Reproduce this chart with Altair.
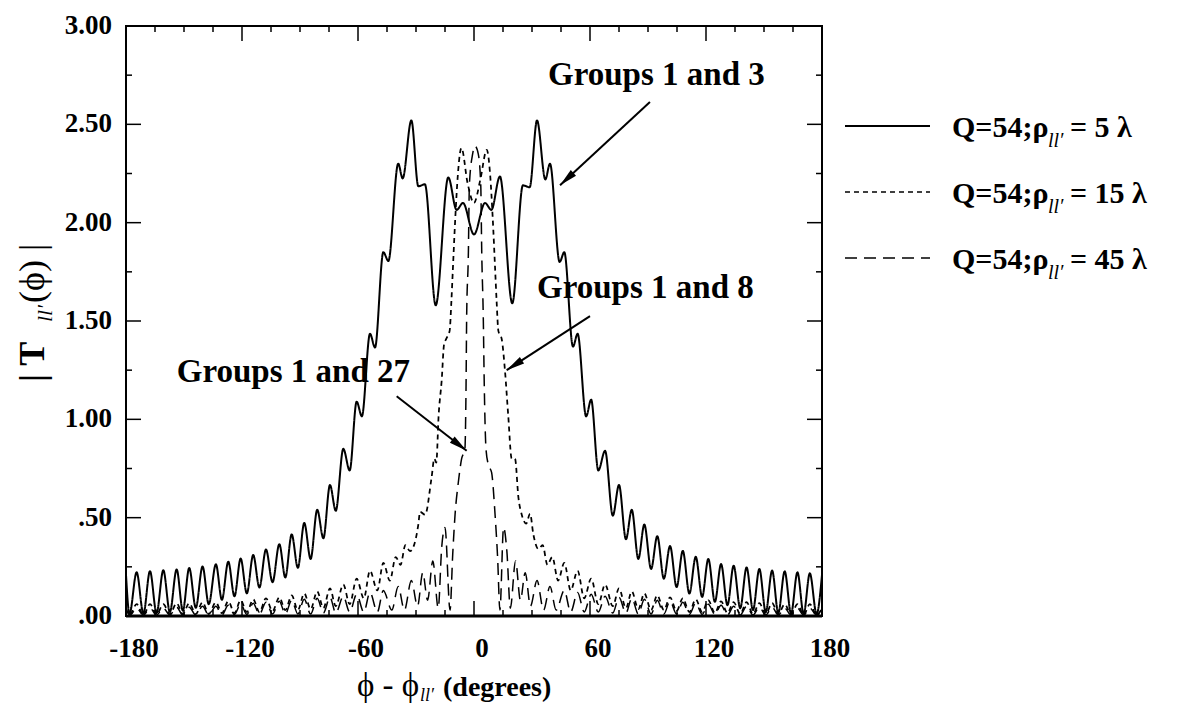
import math
import altair as alt
import pandas as pd

W, H = 696, 590
FONT = "Liberation Serif"

SERIES = ["rho5", "rho15", "rho45"]
LEGEND_NUM = ["5", "15", "45"]

# ---- curve 1: Q=54, rho = 5 lambda (solid) ----
S_X = [-180, -178.2, -174.5, -171.0, -167.6, -164.2, -160.7, -157.3, -153.8, -150.6,
       -147.3, -143.9, -140.4, -137.2, -133.5, -130.4, -127.1, -123.9, -120.7, -117.5,
       -114.2, -111.0, -107.6, -104.2, -100.7, -97.6, -94.3, -91.1, -87.8, -84.5,
       -81.1, -77.9, -74.5, -71.5, -67.6, -64.3, -60.7, -58.0, -53.8, -51.2,
       -46.9, -44.3, -39.2, -36.9, -32.4, -28.8, -25.4, -19.8, -13.3, -9.0,
       -5.7, 0, 5.7, 9.0, 13.4, 19.8, 25.3, 28.8, 32.6, 36.9,
       39.3, 44.3, 46.7, 51.2, 53.6, 58.0, 60.6, 64.3, 67.8, 71.8,
       75.0, 78.6, 81.6, 85.0, 88.1, 91.6, 94.8, 98.2, 101.4, 104.8,
       108.0, 111.4, 114.7, 118.0, 121.2, 124.6, 127.8, 131.1, 134.3, 137.7,
       141.0, 144.3, 147.6, 150.9, 154.2, 157.4, 160.7, 164.0, 167.3, 170.5,
       173.7, 177.2, 180]
S_Y = [0.21, 0.01, 0.222, 0.012, 0.228, 0.015, 0.233, 0.02, 0.237, 0.027,
       0.244, 0.042, 0.252, 0.06, 0.263, 0.082, 0.276, 0.1, 0.292, 0.115,
       0.31, 0.145, 0.338, 0.172, 0.365, 0.196, 0.415, 0.245, 0.473, 0.29,
       0.54, 0.395, 0.666, 0.535, 0.85, 0.74, 1.09, 1.015, 1.435, 1.365,
       1.85, 1.805, 2.30, 2.225, 2.52, 2.185, 2.195, 1.58, 2.23, 2.065,
       2.10, 1.94, 2.10, 2.065, 2.235, 1.59, 2.19, 2.18, 2.52, 2.22,
       2.30, 1.80, 1.85, 1.37, 1.435, 1.015, 1.10, 0.74, 0.84, 0.51,
       0.666, 0.39, 0.54, 0.29, 0.465, 0.239, 0.406, 0.19, 0.356, 0.147,
       0.331, 0.114, 0.301, 0.097, 0.29, 0.072, 0.264, 0.055, 0.256, 0.04,
       0.247, 0.03, 0.239, 0.02, 0.231, 0.015, 0.227, 0.012, 0.222, 0.01,
       0.217, 0.01, 0.21]

# ---- curve 2: Q=54, rho = 15 lambda (short dashes) ----
M_X = [-180, -178.2, -174.5, -171.0, -167.6, -164.2, -160.7, -157.3, -153.8, -150.6,
       -147.3, -143.9, -140.4, -137.2, -133.5, -130.4, -127.1, -123.9, -120.7, -117.5,
       -114.2, -111.0, -107.6, -104.2, -100.7, -97.6, -94.3, -91.1, -87.8, -84.5,
       -81.1, -77.9, -74.5, -71.5, -67.6, -64.3, -60.7, -57.0, -53.8, -50.0,
       -46.9, -43.5, -40.5, -38.0, -35.5, -33.1, -31.4, -28.8, -27.9, -25.3,
       -22.0, -20.5, -19.5, -18.3, -16.7, -15.5, -14.3, -12.6, -11.7, -10.9,
       -9.7, -8.3, -6.5, -3.3, 0, 3.3, 6.6, 8.3, 9.7, 10.9,
       11.7, 12.6, 14.3, 16.0, 17.7, 19.5, 21.2, 23.0, 24.7, 27.0,
       29.0, 30.7, 33.3, 35.5, 38.0, 40.5, 43.5, 46.7, 50.0, 53.6,
       57.0, 60.6, 64.3, 67.8, 71.8, 75.0, 78.6, 81.6, 85.0, 88.1,
       91.6, 94.8, 98.2, 101.4, 104.8, 108.0, 111.4, 114.7, 118.0, 121.2,
       124.6, 127.8, 131.1, 134.3, 137.7, 141.0, 144.3, 147.6, 150.9, 154.2,
       157.4, 160.7, 164.0, 167.3, 170.5, 173.7, 177.2, 180]
M_Y = [0.04, 0.005, 0.06, 0.005, 0.06, 0.008, 0.06, 0.01, 0.065, 0.01,
       0.065, 0.01, 0.07, 0.01, 0.07, 0.015, 0.075, 0.015, 0.08, 0.02,
       0.085, 0.02, 0.09, 0.025, 0.095, 0.03, 0.105, 0.03, 0.115, 0.035,
       0.125, 0.04, 0.14, 0.05, 0.16, 0.06, 0.19, 0.09, 0.23, 0.13,
       0.27, 0.18, 0.30, 0.26, 0.36, 0.33, 0.35, 0.465, 0.53, 0.515,
       0.70, 0.80, 0.78, 1.02, 1.20, 1.38, 1.41, 1.45, 1.60, 1.77,
       2.02, 2.25, 2.38, 2.20, 2.10, 2.22, 2.37, 2.25, 2.02, 1.77,
       1.60, 1.45, 1.41, 1.25, 1.02, 0.80, 0.80, 0.60, 0.515, 0.47,
       0.52, 0.415, 0.34, 0.36, 0.26, 0.30, 0.18, 0.27, 0.13, 0.23,
       0.09, 0.19, 0.06, 0.16, 0.05, 0.14, 0.04, 0.125, 0.035, 0.115,
       0.03, 0.105, 0.03, 0.095, 0.025, 0.09, 0.02, 0.085, 0.02, 0.08,
       0.015, 0.075, 0.015, 0.07, 0.01, 0.07, 0.01, 0.065, 0.01, 0.065,
       0.01, 0.06, 0.008, 0.06, 0.005, 0.06, 0.005, 0.04]

# ---- curve 3: Q=54, rho = 45 lambda (long dashes) ----
L_X = [-180, -177.9, -174.5, -171.0, -167.6, -164.2, -160.7, -157.3, -153.8, -150.6,
       -147.3, -143.9, -140.4, -137.2, -133.5, -130.4, -127.1, -123.9, -120.7, -117.5,
       -114.2, -111.0, -107.6, -104.2, -100.7, -97.6, -94.3, -91.1, -87.8, -84.5,
       -81.1, -77.9, -74.5, -71.5, -67.6, -64.3, -60.7, -57.0, -53.8, -50.0,
       -46.9, -42.5, -39.2, -36.0, -32.4, -29.2, -26.5, -24.0, -21.3, -18.5,
       -16.7, -15.0, -12.4, -11.0, -9.8, -8.1, -6.4, -4.7, -4.1, -3.8,
       -2.9, -2.4, -0.7, 0.5, 2.2, 3.5, 4.0, 4.8, 5.3, 6.2,
       7.4, 9.1, 10.9, 12.2, 13.4, 15.3, 17.0, 18.8, 21.5, 24.0,
       26.5, 29.2, 32.6, 36.0, 39.3, 42.5, 46.7, 50.0, 53.6, 57.0,
       60.6, 64.3, 67.8, 71.8, 75.0, 78.6, 81.6, 85.0, 88.1, 91.6,
       94.8, 98.2, 101.4, 104.8, 108.0, 111.4, 114.7, 118.0, 121.2, 124.6,
       127.8, 131.1, 134.3, 137.7, 141.0, 144.3, 147.6, 150.9, 154.2, 157.4,
       160.7, 164.0, 167.3, 170.5, 173.7, 177.2, 180]
L_Y = [0.03, 0.005, 0.04, 0.005, 0.04, 0.005, 0.04, 0.005, 0.045, 0.005,
       0.045, 0.005, 0.05, 0.005, 0.05, 0.005, 0.055, 0.008, 0.06, 0.008,
       0.065, 0.008, 0.07, 0.01, 0.075, 0.01, 0.08, 0.01, 0.085, 0.01,
       0.09, 0.015, 0.095, 0.015, 0.10, 0.02, 0.11, 0.02, 0.12, 0.02,
       0.13, 0.03, 0.15, 0.03, 0.18, 0.05, 0.22, 0.08, 0.28, 0.04,
       0.35, 0.45, 0.03, 0.315, 0.515, 0.68, 0.80, 0.85, 1.18, 1.52,
       1.85, 2.19, 2.35, 2.39, 2.35, 2.19, 1.85, 1.52, 1.18, 0.85,
       0.77, 0.73, 0.515, 0.30, 0.03, 0.45, 0.33, 0.04, 0.28, 0.08,
       0.22, 0.05, 0.18, 0.03, 0.15, 0.03, 0.13, 0.02, 0.12, 0.02,
       0.11, 0.02, 0.10, 0.015, 0.095, 0.015, 0.09, 0.01, 0.085, 0.01,
       0.08, 0.01, 0.075, 0.01, 0.07, 0.008, 0.065, 0.008, 0.06, 0.008,
       0.055, 0.005, 0.05, 0.005, 0.05, 0.005, 0.045, 0.005, 0.045, 0.005,
       0.04, 0.005, 0.04, 0.005, 0.04, 0.005, 0.03]

# ---- axes ----
X_LABELS = [-180, -120, -60, 0, 60, 120, 180]
X_LABEL_TEXT = ["-180", "-120", "-60", "0", "60", "120", "180"]
X_MAJOR_TICKS = [-120, -60, 0, 60, 120]
X_MINOR_TICKS = [-165, -150, -135, -105, -90, -75, -45, -30, -15,
                 15, 30, 45, 75, 90, 105, 135, 150, 165]
Y_LABELS = [3, 2.5, 2, 1.5, 1, 0.5, 0]
Y_LABEL_TEXT = ["3.00", "2.50", "2.00", "1.50", "1.00", ".50", ".00"]
Y_MAJOR_TICKS = [0.5, 1, 1.5, 2, 2.5]
Y_MINOR_TICKS = [0.25, 0.75, 1.25, 1.75, 2.25, 2.75]

# ---- annotations (data coordinates) ----
ANN_TEXT = ["Groups 1 and 3", "Groups 1 and 8", "Groups 1 and 27"]
ANN_X = [38.3, 32.6, -33.1]
ANN_Y = [2.70, 1.616, 1.19]
ARROW_X0 = [91.0, 60.0, -40.0]
ARROW_Y0 = [2.614, 1.525, 1.117]
ARROW_X1 = [44.5, 16.9, -3.8]
ARROW_Y1 = [2.19, 1.25, 0.84]

rows = []
for name, xs_, ys_ in [(SERIES[0], S_X, S_Y), (SERIES[1], M_X, M_Y), (SERIES[2], L_X, L_Y)]:
    assert len(xs_) == len(ys_), name
    rows += [{"phi": x, "T": y, "series": name} for x, y in zip(xs_, ys_)]
df = pd.DataFrame(rows)

xs = alt.Scale(domain=[-180, 180], nice=False, zero=False)
ys = alt.Scale(domain=[0, 3], nice=False, zero=False)
DASH = [[1, 0], [5, 4], [12, 7]]
WIDTH = [2.0, 1.5, 1.5]

lines = alt.Chart(df).mark_line(interpolate="monotone", color="black").encode(
    x=alt.X("phi:Q", scale=xs, axis=None),
    y=alt.Y("T:Q", scale=ys, axis=None),
    strokeDash=alt.StrokeDash("series:N", scale=alt.Scale(domain=SERIES, range=DASH), legend=None),
    strokeWidth=alt.StrokeWidth("series:N", scale=alt.Scale(domain=SERIES, range=WIDTH), legend=None),
)


def xrule(vals, y0, y1):
    return alt.Chart(pd.DataFrame({"v": vals})).mark_rule(color="black", strokeWidth=1.5).encode(
        x=alt.X("v:Q", scale=xs, axis=None), y=alt.value(y0), y2=alt.value(y1))


def yrule(vals, x0, x1):
    return alt.Chart(pd.DataFrame({"v": vals})).mark_rule(color="black", strokeWidth=1.5).encode(
        y=alt.Y("v:Q", scale=ys, axis=None), x=alt.value(x0), x2=alt.value(x1))


ticks = [
    xrule(X_MAJOR_TICKS, H, H - 15), xrule(X_MINOR_TICKS, H, H - 6),
    xrule(X_MAJOR_TICKS, 0, 15), xrule(X_MINOR_TICKS, 0, 6),
    yrule(Y_MAJOR_TICKS, 0, 15), yrule(Y_MINOR_TICKS, 0, 6),
    yrule(Y_MAJOR_TICKS, W, W - 15), yrule(Y_MINOR_TICKS, W, W - 6),
]
bottom_line = alt.Chart(pd.DataFrame({"v": [-180, 180]})).mark_rule(color="black", strokeWidth=3).encode(
    x=alt.X("min(v):Q", scale=xs, axis=None), x2="max(v):Q", y=alt.value(H))

xlab = alt.Chart(pd.DataFrame({"v": X_LABELS, "t": X_LABEL_TEXT})).mark_text(
    font=FONT, fontWeight="bold", fontSize=27, baseline="alphabetic", align="center", dx=8, color="black").encode(
    x=alt.X("v:Q", scale=xs, axis=None), y=alt.value(H + 41), text="t:N")
ylab = alt.Chart(pd.DataFrame({"v": Y_LABELS, "t": Y_LABEL_TEXT})).mark_text(
    font=FONT, fontWeight="bold", fontSize=27, baseline="middle", align="right", color="black").encode(
    y=alt.Y("v:Q", scale=ys, axis=None), x=alt.value(-14), text="t:N")

ann_df = pd.DataFrame({"x": ANN_X, "y": ANN_Y, "t": ANN_TEXT})
arr_df = pd.DataFrame({"x0": ARROW_X0, "y0": ARROW_Y0, "x1": ARROW_X1, "y1": ARROW_Y1})


def head_angle(x0, y0, x1, y1):
    dx = (x1 - x0) * W / 360.0
    dy = -(y1 - y0) * H / 3.0
    return math.degrees(math.atan2(dx, -dy)) % 360


arr_df["ang"] = [head_angle(a, b, c, d) for a, b, c, d in zip(ARROW_X0, ARROW_Y0, ARROW_X1, ARROW_Y1)]

ann_layers = []
for i, align in enumerate(["left", "left", "right"]):
    ann_layers.append(
        alt.Chart(ann_df.iloc[[i]]).mark_text(font=FONT, fontWeight="bold", fontSize=33,
                                               align=align, baseline="alphabetic", color="black").encode(
            x=alt.X("x:Q", scale=xs, axis=None), y=alt.Y("y:Q", scale=ys, axis=None), text="t:N"))

arrow_lines = alt.Chart(arr_df).mark_rule(color="black", strokeWidth=2).encode(
    x=alt.X("x0:Q", scale=xs, axis=None), y=alt.Y("y0:Q", scale=ys, axis=None),
    x2="x1:Q", y2="y1:Q")
arrow_heads = alt.Chart(arr_df).mark_point(shape="M0,0 L0.36,1.7 L-0.36,1.7 Z", size=460,
                                           filled=True, color="black", opacity=1).encode(
    x=alt.X("x1:Q", scale=xs, axis=None), y=alt.Y("y1:Q", scale=ys, axis=None),
    angle=alt.Angle("ang:Q", scale=None))

# ---- legend (outside the plot, pixel positions) ----
LEG_Y = [100, 166, 232]
leg_df = pd.DataFrame({"series": SERIES, "num": LEGEND_NUM, "ly": LEG_Y})
leg_layers = []
for i, s in enumerate(SERIES):
    d = leg_df.iloc[[i]]
    leg_layers.append(alt.Chart(d).mark_rule(color="black", strokeWidth=WIDTH[i], strokeDash=DASH[i]).encode(
        x=alt.value(719), x2=alt.value(804), y=alt.value(LEG_Y[i])))
    leg_layers.append(alt.Chart(d).mark_text(font=FONT, fontWeight="bold", fontSize=30, align="left",
                                             baseline="alphabetic", color="black").encode(
        x=alt.value(826), y=alt.value(LEG_Y[i] + 11), text=alt.value("Q=54;ρ")))
    leg_layers.append(alt.Chart(d).mark_text(font=FONT, fontStyle="italic", fontSize=20, align="left",
                                             baseline="alphabetic", color="black").encode(
        x=alt.value(922), y=alt.value(LEG_Y[i] + 21), text=alt.value("ll′")))
    leg_layers.append(alt.Chart(d).mark_text(font=FONT, fontWeight="bold", fontSize=30, align="left",
                                             baseline="alphabetic", color="black").encode(
        x=alt.value(944), y=alt.value(LEG_Y[i] + 11), text=alt.value("= " + LEGEND_NUM[i] + " λ")))

# ---- axis titles built from pieces (for subscripts) ----
title_df = pd.DataFrame({"k": [0]})
xt = [
    alt.Chart(title_df).mark_text(font=FONT, fontSize=33, align="left", baseline="alphabetic").encode(
        x=alt.value(231), y=alt.value(670), text=alt.value("ϕ - ϕ")),
    alt.Chart(title_df).mark_text(font=FONT, fontStyle="italic", fontSize=18, align="left", baseline="alphabetic").encode(
        x=alt.value(294), y=alt.value(675), text=alt.value("ll′")),
    alt.Chart(title_df).mark_text(font=FONT, fontWeight="bold", fontSize=28, align="left", baseline="alphabetic").encode(
        x=alt.value(317), y=alt.value(670), text=alt.value("(degrees)")),
]
yt = [
    alt.Chart(title_df).mark_text(font=FONT, fontWeight="bold", fontSize=36, align="left", baseline="alphabetic", angle=270).encode(
        x=alt.value(-82), y=alt.value(356), text=alt.value("|   T")),
    alt.Chart(title_df).mark_text(font=FONT, fontStyle="italic", fontSize=22, align="left", baseline="alphabetic", angle=270).encode(
        x=alt.value(-74), y=alt.value(296), text=alt.value("ll′")),
    alt.Chart(title_df).mark_text(font=FONT, fontSize=36, align="left", baseline="alphabetic", angle=270).encode(
        x=alt.value(-82), y=alt.value(277), text=alt.value("(ϕ)   |")),
]

chart = alt.layer(lines, *ticks, bottom_line, xlab, ylab, arrow_lines, arrow_heads, *ann_layers, *leg_layers, *xt, *yt).properties(
    width=W, height=H,
    padding={"left": 118, "top": 18, "right": 340, "bottom": 90},
    autosize=alt.AutoSizeParams(type="none"),
    background="white",
).configure_view(stroke="black", strokeWidth=2)

chart.save("out.html", embed_options={"renderer": "svg", "actions": False})
